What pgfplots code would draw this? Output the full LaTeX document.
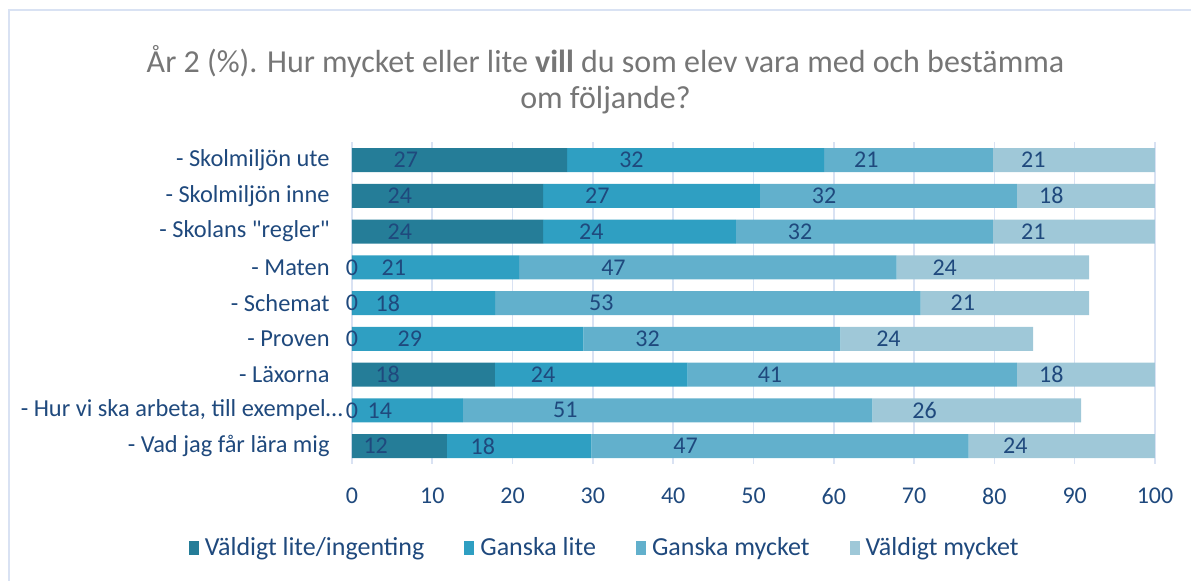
\documentclass[border=0pt]{standalone}
\usepackage{fontspec}
\setmainfont{Carlito}[Ligatures=TeXOff]
\usepackage{pgfplots}
\usepackage{pgfplotstable}
\pgfplotsset{compat=1.18}

\definecolor{txt}{HTML}{1F497D}
\definecolor{gridc}{HTML}{D9E2F3}
\definecolor{ttl}{HTML}{767676}
\definecolor{c1}{HTML}{257D98}
\definecolor{c2}{HTML}{2F9FC2}
\definecolor{c3}{HTML}{62B0CC}
\definecolor{c4}{HTML}{9FC8D8}

% y: 8 = top row ... 0 = bottom row; a..d segment widths, la..ld printed labels
\pgfplotstableread{
y  a    b    c   d    la lb lc ld
8  26.8 32   21  20.2 27 32 21 21
7  23.8 27   32  17.2 24 27 32 18
6  23.8 24   32  20.2 24 24 32 21
5  0.01 20.8 47  24   0  21 47 24
4  0.01 17.8 53  21   0  18 53 21
3  0.01 28.8 32  24   0  29 32 24
2  17.8 24   41  17.2 18 24 41 18
1  0.01 13.8 51  26   0  14 51 26
0  11.8 18   47  23.2 12 18 47 24
}\data

\begin{document}
\begin{tikzpicture}
\begin{axis}[
    at={(0,0)}, anchor=south west,
    scale only axis, width=401.5pt, height=160.9pt,
    set layers, clip=false,
    every axis plot/.append style={on layer=pre main},
    xbar stacked, bar width=12pt,
    xmin=0, xmax=100, ymin=-0.5, ymax=8.5,
    xtick={0,10,...,100},
    ytick={0,...,8},
    yticklabels={- Vad jag får lära mig, {- Hur vi ska arbeta, till exempel…\kern-6.5pt}, - Läxorna, - Proven, - Schemat, - Maten, - Skolans "regler", - Skolmiljön inne, - Skolmiljön ute},
    axis line style={draw=none},
    major tick length=0pt,
    xmajorgrids, grid style={gridc, line width=0.8pt},
    tick label style={font=\fontsize{12}{14}\selectfont, text=txt},
    yticklabel style={font=\fontsize{12.2}{14}\selectfont},
    /pgf/number format/assume math mode=true,
    yticklabel style={inner sep=0pt, xshift=-11pt},
    xticklabel style={inner sep=0pt, anchor=center, yshift=-16pt},
    nodes near coords,
    point meta=explicit symbolic,
    visualization depends on={rawx \as \segval},
    every node near coord/.append style={anchor=center, font=\fontsize{12}{14}\selectfont, text=txt, xshift={-\segval*1.00375pt}},
    legend style={draw=none, fill=none, at={(0.316,-0.261)}, anchor=center,
        legend columns=4, font=\fontsize{13}{15}\selectfont, text=txt,
        /tikz/every even column/.append style={column sep=18pt},
        /tikz/every odd column/.append style={column sep=1pt}},
    legend image code/.code={\path[#1, draw=none] (0pt,-3.3pt) rectangle (5pt,3.3pt);},
]
\addplot[draw=none, fill=c1]
  table[x=a, y=y, meta=la] {\data};
\addplot[draw=none, fill=c2]
  table[x=b, y=y, meta=lb] {\data};
\addplot[draw=none, fill=c3]
  table[x=c, y=y, meta=lc] {\data};
\addplot[draw=none, fill=c4]
  table[x=d, y=y, meta=ld] {\data};
\legend{Väldigt lite/ingenting, Ganska lite, Ganska mycket, Väldigt mycket}
\end{axis}
\node[align=center, text=ttl, font=\fontsize{16}{18}\selectfont] at (126.75pt,192pt)
  {År 2 (\%). Hur mycket eller lite \textbf{vill} du som elev vara med och bestämma\\om följande?};
\draw[gridc, line width=1pt] (-171.5pt,-58.5pt) -- (-171.5pt,227pt) -- (419.5pt,227pt);
\pgfresetboundingbox
\useasboundingbox (-176pt,-58.5pt) rectangle (419.5pt,232pt);
\end{tikzpicture}
\end{document}
